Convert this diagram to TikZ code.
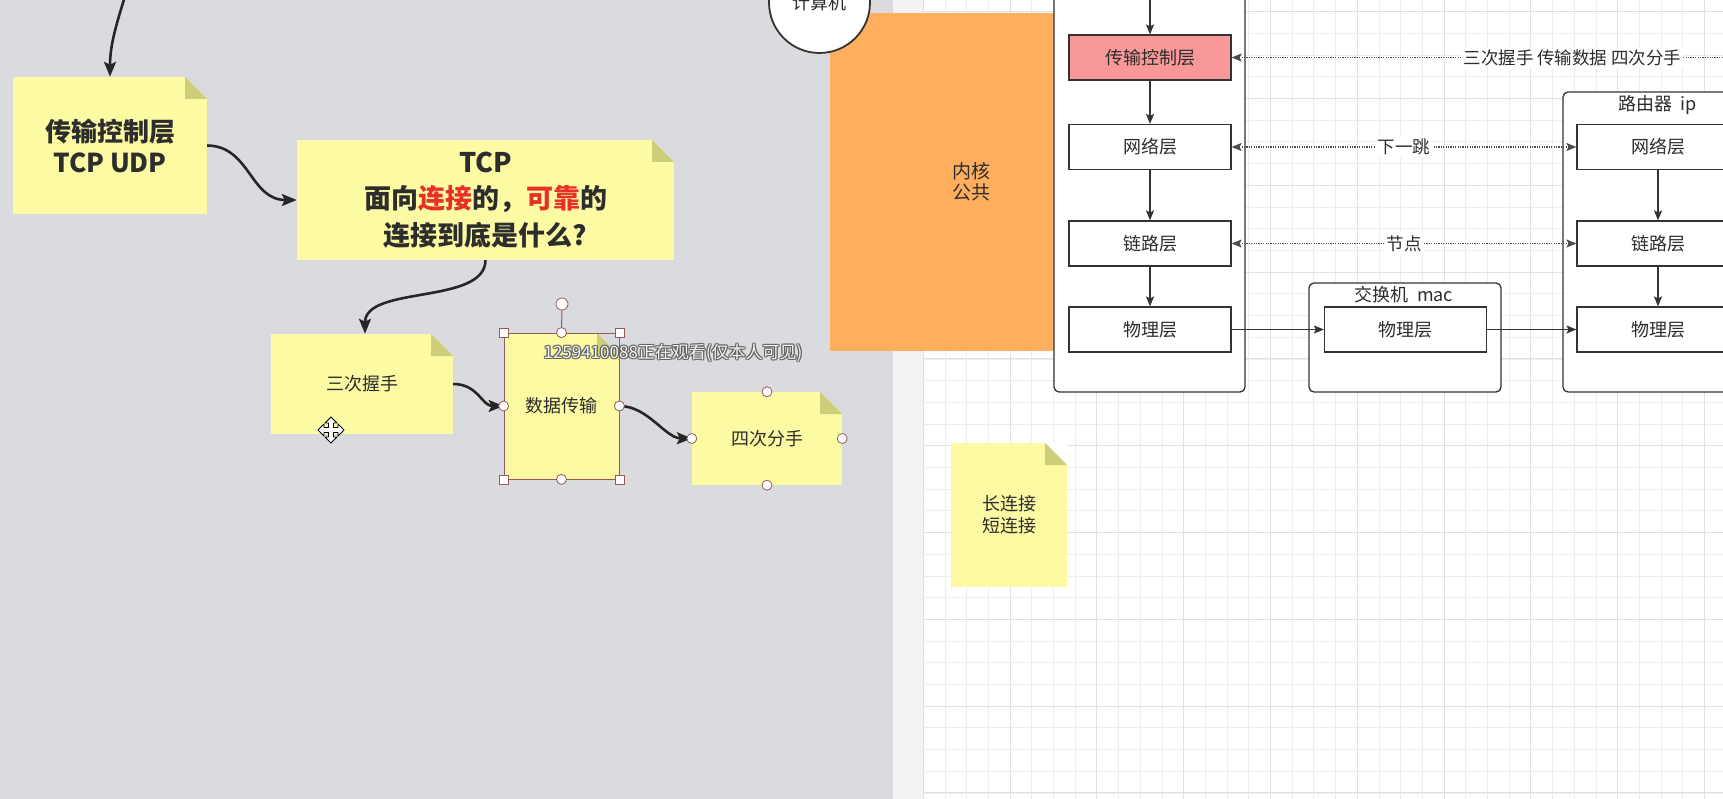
\documentclass[tikz,border=0pt]{standalone}
\usepackage{fontspec}
\newfontfamily\cjk{Noto Sans CJK SC}
\usetikzlibrary{arrows.meta}

\definecolor{leftbg}{RGB}{218,219,223}
\definecolor{stripbg}{RGB}{243,243,244}
\definecolor{gridminor}{RGB}{237,237,237}
\definecolor{gridmajor}{RGB}{225,225,225}
\definecolor{notey}{RGB}{252,250,162}
\definecolor{notefold}{RGB}{206,206,122}
\definecolor{orangek}{RGB}{255,174,94}
\definecolor{redbox}{RGB}{248,152,152}
\definecolor{linec}{RGB}{51,51,51}
\definecolor{txtc}{RGB}{45,45,45}
\definecolor{redtxt}{RGB}{232,48,40}
\definecolor{selc}{RGB}{150,90,90}
\definecolor{wmtxt}{RGB}{245,245,245}
\definecolor{wmshadow}{RGB}{95,95,95}

\tikzset{
  note/.style={fill=notey, inner sep=0pt, align=center, text=txtc,
    path picture={
      \fill[#1] ([xshift=-22pt]path picture bounding box.north east) -- (path picture bounding box.north east) -- ([yshift=-22pt]path picture bounding box.north east) -- cycle;
      \fill[notefold] ([xshift=-22pt]path picture bounding box.north east) -- ([xshift=-22pt,yshift=-22pt]path picture bounding box.north east) -- ([yshift=-22pt]path picture bounding box.north east) -- cycle;}},
  curvearrow/.style={line width=2.6pt, draw=black!85, -{Stealth[length=15pt,width=12pt,inset=3pt]}},
  layer/.style={draw=linec, line width=1.2pt, fill=white, minimum width=162pt, minimum height=45pt, inner sep=0pt, text=txtc, font=\cjk\fontsize{18}{22}\selectfont},
  container/.style={draw=linec, line width=1.3pt, fill=white, rounded corners=5pt, inner sep=0pt},
  ctitle/.style={text=txtc, inner sep=0pt, font=\cjk\fontsize{18}{22}\selectfont},
  flow/.style={draw=linec, line width=1.2pt, -{Stealth[length=10pt,width=8pt,inset=2pt]}},
  dotline/.style={draw=black!70, line width=1.1pt, dash pattern=on 1.2pt off 1.2pt},
  dottip/.style={{Stealth[length=10pt,width=8pt,inset=2pt]}-{Stealth[length=10pt,width=8pt,inset=2pt]}},
  lbl/.style={fill=white, inner sep=2pt, text=txtc, font=\cjk\fontsize{17.5}{20}\selectfont},
  hsq/.style={draw=selc, fill=white, minimum size=9pt, inner sep=0pt, line width=0.8pt},
  hcirc/.style={circle, draw=selc, fill=white, minimum size=10pt, inner sep=0pt, line width=0.8pt},
  wm/.style={inner sep=0pt, font=\cjk\fontsize{17}{20}\selectfont}
}

\begin{document}
\begin{tikzpicture}[x=1pt,y=-1pt]
\useasboundingbox (0,0) rectangle (1723,799);
\clip (0,0) rectangle (1723,799);
% backgrounds
\fill[leftbg] (0,0) rectangle (893,799);
\fill[stripbg] (893,0) rectangle (923,799);
\fill[white] (923,0) rectangle (1723,799);
\foreach \i in {0,...,37} \draw[gridminor, line width=0.8pt] ({923.2+\i*21.7},0) -- ++(0,799);
\foreach \i in {0,...,36} \draw[gridminor, line width=0.8pt] (923,{11.7+\i*21.7}) -- (1723,{11.7+\i*21.7});
\foreach \i in {0,...,9} \draw[gridmajor, line width=1pt] ({923.2+\i*86.8},0) -- ++(0,799);
\foreach \i in {0,...,9} \draw[gridmajor, line width=1pt] (923,{11.7+\i*86.8}) -- (1723,{11.7+\i*86.8});

% left notes
\node[note=leftbg, minimum width=194pt, minimum height=137pt, font=\cjk\bfseries\fontsize{26}{31}\selectfont] (n1) at (110,145.5) {传输控制层\\TCP UDP};
\node[note=leftbg, minimum width=377pt, minimum height=120pt, font=\cjk\bfseries\fontsize{27}{36.5}\selectfont] (n2) at (485.5,200) {TCP\\面向\textcolor{redtxt}{连接}的，\textcolor{redtxt}{可靠}的\\连接到底是什么?};
\node[note=leftbg, minimum width=182pt, minimum height=100pt, font=\cjk\fontsize{18}{22}\selectfont] (n3) at (362,384) {三次握手};
\node[note=leftbg, draw=selc, line width=0.8pt, minimum width=115pt, minimum height=146pt, font=\cjk\fontsize{18}{22}\selectfont] (n4) at (561.5,406) {数据传输};
\node[note=leftbg, minimum width=150pt, minimum height=93pt, font=\cjk\fontsize{18}{22}\selectfont] (n5) at (767,438.5) {四次分手};

% curved arrows
\coordinate (topin) at (127,-10);
\draw[curvearrow] (topin) .. controls (116,25) and (110,45) .. (n1.north);
\draw[curvearrow] (n1.east) .. controls (250,146) and (250,200) .. (n2.west);
\draw[curvearrow] (n2.south) .. controls (485,305) and (365,285) .. ([xshift=3pt]n3.north);
\draw[curvearrow] (n3.east) .. controls (478,384) and (482,406) .. (n4.west);
\draw[curvearrow] (n4.east) .. controls (648,406) and (665,438) .. (n5.west);

% selection handles
\node[hsq] (hnw) at (n4.north west) {};
\node[hsq] (hne) at (n4.north east) {};
\node[hsq] (hsw) at (n4.south west) {};
\node[hsq] (hse) at (n4.south east) {};
\node[hcirc] (hn) at (n4.north) {};
\node[hcirc] (hw) at (n4.west) {};
\node[hcirc] (he) at (n4.east) {};
\node[hcirc] (hs) at (n4.south) {};
\node[hcirc, minimum width=10pt, minimum height=12pt] (hrot) at (562,304) {};
\draw[selc, line width=1pt] (hrot) -- (hn);
\node[hcirc] (fn) at (n5.north) {};
\node[hcirc] (fw) at (n5.west) {};
\node[hcirc] (fe) at (n5.east) {};
\node[hcirc] (fs) at (n5.south) {};

% move cursor
\draw[black, fill=white, line width=0.9pt, line join=round] (331,430) ++(0,-13) -- ++(6,6) -- ++(-3.5,0) -- ++(0,4.5) -- ++(4.5,0) -- ++(0,-3.5) -- ++(6,6) -- ++(-6,6) -- ++(0,-3.5) -- ++(-4.5,0) -- ++(0,4.5) -- ++(3.5,0) -- ++(-6,6) -- ++(-6,-6) -- ++(3.5,0) -- ++(0,-4.5) -- ++(-4.5,0) -- ++(0,3.5) -- ++(-6,-6) -- ++(6,-6) -- ++(0,3.5) -- ++(4.5,0) -- ++(0,-4.5) -- ++(-3.5,0) -- cycle;

% watermark (light text with dark halo)
\foreach \dx/\dy [count=\k] in {1/1,-1/1,1/-1,-1/-1,1.3/0,-1.3/0,0/1.3,0/-1.3}
  \node[wm, text=wmshadow, opacity=0.75] (wms\k) at (673+\dx,353+\dy) {1259410088正在观看(仅本人可见)};
\node[wm, text=wmtxt] (wmk) at (673,353) {1259410088正在观看(仅本人可见)};

% kernel and computer
\node[fill=orangek, minimum width=282pt, minimum height=338pt, inner sep=0pt, align=center, text=txtc, font=\cjk\fontsize{19}{21}\selectfont] (kernel) at (971,182) {内核\\公共};
\node[circle, draw=linec, line width=1.8pt, fill=white, minimum size=101pt, inner sep=0pt, text=txtc, font=\cjk\fontsize{18}{22}\selectfont] (pc) at (819.5,2.5) {计算机};

% containers
\node[container, minimum width=191pt, minimum height=420pt] (c1) at (1149.5,182) {};
\node[container, minimum width=192pt, minimum height=109pt] (sw) at (1405,337.5) {};
\node[container, minimum width=240pt, minimum height=300pt] (rt) at (1683,242) {};
\node[ctitle] (swt) at (1404,295) {交换机\ \ mac};
\node[ctitle] (rtt) at (1658,105) {路由器\ \ ip};

% layers
\node[layer, fill=redbox] (L1) at (1150,57.5) {传输控制层};
\node[layer] (L2) at (1150,147) {网络层};
\node[layer] (L3) at (1150,243.5) {链路层};
\node[layer] (L4) at (1150,329.5) {物理层};
\node[layer] (S1) at (1405.5,329.5) {物理层};
\node[layer] (R2) at (1658,147) {网络层};
\node[layer] (R3) at (1658,243.5) {链路层};
\node[layer] (R4) at (1658,329.5) {物理层};

% flows
\coordinate (l1in) at (1150,-10);
\draw[flow] (l1in) -- (L1.north);
\draw[flow] (L1.south) -- (L2.north);
\draw[flow] (L2.south) -- (L3.north);
\draw[flow] (L3.south) -- (L4.north);
\draw[flow] (R2.south) -- (R3.north);
\draw[flow] (R3.south) -- (R4.north);
\draw[flow] (L4.east) -- (S1.west);
\draw[flow] (S1.east) -- (R4.west);

% dotted relations
\coordinate (topout) at (1760,57.5);
\draw[dotline, {Stealth[length=10pt,width=8pt,inset=2pt]}-] (L1.east) -- node[lbl, pos=0.645] {三次握手 传输数据 四次分手} (topout);
\draw[dotline, dottip] (L2.east) -- node[lbl] {下一跳} (R2.west);
\draw[dotline, dottip] (L3.east) -- node[lbl] {节点} (R3.west);

% long/short connection note
\node[note=white, minimum width=116pt, minimum height=144pt, font=\cjk\fontsize{18}{22}\selectfont] (n6) at (1009,515) {长连接\\短连接};
\end{tikzpicture}
\end{document}
